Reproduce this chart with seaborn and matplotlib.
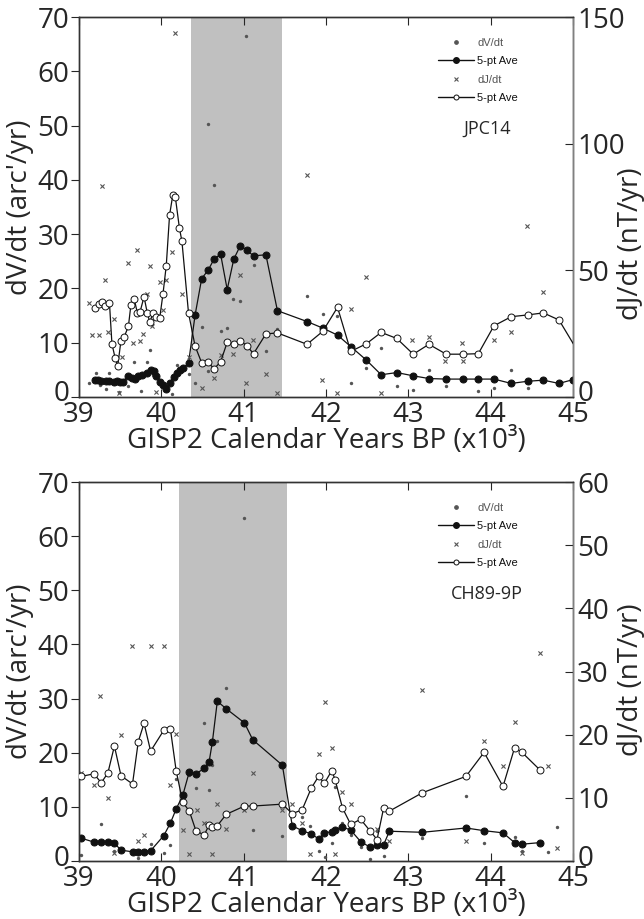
import seaborn as sns
import matplotlib.pyplot as plt
import matplotlib.transforms as mtransforms
from matplotlib.lines import Line2D

# ---- top panel (JPC14) ----
top_avg_v_x = [39.19, 39.23, 39.27, 39.33, 39.37, 39.42, 39.46, 39.50, 39.54, 39.59, 39.64, 39.68,
               39.72, 39.76, 39.82, 39.87, 39.91, 39.94, 39.98, 40.02, 40.06, 40.10, 40.15, 40.19,
               40.23, 40.26, 40.33, 40.41, 40.49, 40.57, 40.64, 40.72, 40.80, 40.88, 40.96, 41.04,
               41.12, 41.27, 41.41, 41.77, 41.96, 42.14, 42.30, 42.49, 42.67, 42.86, 43.06, 43.25,
               43.46, 43.66, 43.85, 44.04, 44.25, 44.45, 44.64, 44.83, 45.00]
top_avg_v = [3.1, 3.1, 3.0, 3.0, 2.9, 2.8, 2.9, 2.8, 2.8, 3.9, 3.5, 3.4,
             3.8, 4.1, 4.5, 5.0, 4.7, 3.8, 2.8, 2.2, 1.5, 2.6, 3.7, 4.4,
             4.9, 5.3, 6.2, 15.1, 21.8, 23.4, 25.4, 26.3, 19.8, 25.4, 27.9, 27.0,
             26.0, 26.2, 15.9, 13.9, 12.7, 11.4, 9.3, 6.8, 4.1, 4.5, 3.9, 3.4,
             3.3, 3.3, 3.3, 3.3, 2.5, 2.9, 3.1, 2.5, 3.2]

top_avg_j_x = [39.20, 39.24, 39.28, 39.32, 39.37, 39.40, 39.44, 39.47, 39.51, 39.55, 39.60, 39.63,
               39.67, 39.71, 39.74, 39.79, 39.83, 39.86, 39.90, 39.94, 39.98, 40.02, 40.06, 40.10,
               40.14, 40.17, 40.22, 40.25, 40.33, 40.41, 40.49, 40.57, 40.64, 40.72, 40.80, 40.88,
               40.96, 41.04, 41.12, 41.27, 41.41, 41.77, 41.96, 42.14, 42.30, 42.49, 42.67, 42.86,
               43.06, 43.25, 43.46, 43.66, 43.85, 44.04, 44.25, 44.45, 44.64, 44.83, 45.10]
top_avg_j = [35.1, 36.6, 37.5, 36.0, 37.1, 21.0, 15.2, 12.2, 22.3, 23.8, 27.9, 36.2,
             38.8, 33.0, 33.4, 39.6, 33.0, 29.6, 33.2, 31.7, 31.1, 40.7, 51.9, 71.8,
             79.9, 78.9, 66.6, 61.5, 33.2, 20.1, 13.5, 13.7, 11.1, 13.9, 21.6, 21.0,
             22.3, 20.1, 17.1, 24.9, 25.3, 20.8, 25.9, 35.4, 18.0, 21.0, 25.5, 23.1,
             16.9, 20.8, 16.9, 16.9, 17.1, 28.1, 31.7, 32.4, 33.2, 30.4, 15.8]

top_raw_v_x = [41.03, 40.57, 40.64, 39.12, 39.21, 39.26, 39.33, 39.37, 39.48, 39.55, 39.60, 39.67,
               39.82, 39.86, 39.75, 39.90, 40.05, 40.13, 40.19, 40.25, 40.34, 40.41, 40.49, 40.57,
               40.72, 40.80, 40.87, 40.96, 41.12, 41.27, 41.41, 41.77, 41.96, 42.13, 42.30, 42.49,
               42.67, 42.86, 43.06, 43.25, 43.46, 43.85, 44.04, 44.25, 44.45, 44.83]
top_raw_v = [66.5, 50.2, 39.0, 2.5, 4.5, 2.2, 1.5, 4.4, 1.0, 3.2, 2.0, 6.5,
             6.4, 8.6, 1.1, 4.0, 1.8, 0.5, 5.9, 5.6, 4.2, 2.5, 12.9, 4.8,
             12.1, 12.8, 18.1, 17.6, 24.4, 8.4, 12.6, 18.6, 15.3, 15.0, 2.5, 5.4,
             9.0, 2.1, 1.3, 4.9, 2.1, 1.1, 1.7, 4.9, 1.7, 2.6]

top_raw_j_x = [39.28, 40.17, 41.77, 44.44, 44.63, 42.48, 42.30, 43.05, 43.25, 43.65, 43.45, 43.66,
               44.04, 44.25, 41.95, 42.13, 42.67, 39.12, 39.16, 39.24, 39.32, 39.35, 39.43, 39.48,
               39.52, 39.59, 39.66, 39.70, 39.74, 39.78, 39.82, 39.86, 39.89, 39.94, 39.98, 40.02,
               40.06, 40.13, 40.25, 40.33, 40.49, 40.64, 40.72, 40.87, 40.96, 41.03, 41.11, 41.27,
               41.41]
top_raw_j = [83.3, 143.6, 87.5, 67.4, 41.4, 47.3, 34.8, 22.4, 23.7, 21.2, 14.4, 14.1,
             22.4, 25.8, 6.7, 1.5, 1.5, 37.3, 24.5, 24.5, 46.3, 25.8, 30.7, 1.7,
             15.9, 52.9, 21.2, 58.2, 22.3, 24.7, 40.6, 51.7, 28.1, 2.1, 45.2, 34.4,
             46.0, 57.3, 40.6, 15.9, 3.4, 7.6, 16.6, 17.0, 48.3, 5.7, 22.5, 9.1,
             1.5]

# ---- bottom panel (CH89-9P) ----
bot_avg_x = [39.03, 39.18, 39.27, 39.35, 39.43, 39.51, 39.65, 39.72, 39.79, 39.87, 40.03, 40.11,
             40.18, 40.26, 40.34, 40.42, 40.52, 40.58, 40.62, 40.68, 40.79, 41.01, 41.11, 41.47,
             41.59, 41.71, 41.82, 41.91, 41.98, 42.07, 42.11, 42.20, 42.30, 42.42, 42.54, 42.62,
             42.70, 42.77, 43.17, 43.70, 43.92, 44.15, 44.29, 44.38, 44.60]
bot_avg_v = [4.2, 3.5, 3.5, 3.5, 3.3, 2.0, 1.7, 1.7, 1.7, 1.9, 4.7, 7.0,
             9.6, 12.1, 16.5, 16.1, 17.1, 18.3, 22.0, 29.5, 28.1, 25.5, 22.4, 17.7,
             6.5, 5.6, 5.0, 4.1, 5.2, 5.4, 5.8, 6.3, 5.7, 3.6, 2.5, 2.9,
             3.0, 5.5, 5.3, 6.1, 5.6, 5.2, 3.4, 3.1, 3.4]
bot_avg_j = [13.4, 13.8, 12.4, 13.9, 18.2, 13.5, 12.2, 18.9, 21.8, 17.4, 20.7, 20.9,
             14.3, 9.3, 7.9, 4.8, 4.1, 5.7, 5.4, 5.6, 7.4, 8.7, 8.7, 9.0,
             7.5, 8.1, 11.5, 13.4, 12.3, 14.3, 12.9, 8.4, 5.8, 6.6, 4.7, 3.4,
             8.4, 7.9, 10.8, 13.4, 17.2, 11.8, 17.9, 17.2, 14.4]

bot_raw_v_x = [41.01, 40.79, 39.03, 39.27, 39.43, 39.72, 39.87, 40.03, 40.11, 40.18, 40.26, 40.34,
               40.42, 40.52, 40.58, 40.62, 40.68, 41.11, 41.47, 41.71, 41.81, 41.91, 41.99, 42.07,
               42.11, 42.20, 42.30, 42.42, 42.54, 42.62, 42.70, 42.77, 43.17, 43.70, 43.92, 44.29,
               44.38, 44.70, 44.81]
bot_raw_v = [63.3, 31.9, 1.2, 6.8, 1.9, 0.5, 3.1, 1.4, 3.0, 15.1, 11.3, 15.8,
             13.5, 25.4, 13.1, 17.7, 22.2, 5.8, 4.7, 8.1, 6.5, 1.9, 0.8, 3.3,
             13.7, 7.0, 4.8, 2.6, 0.4, 5.6, 0.9, 6.0, 4.3, 12.0, 3.3, 4.4,
             1.9, 1.7, 6.3]

bot_raw_j_x = [39.25, 39.64, 39.87, 40.03, 44.60, 43.17, 39.03, 39.18, 39.35, 39.43, 39.51, 39.72,
               39.79, 40.11, 40.18, 40.26, 40.34, 40.43, 40.52, 40.62, 40.68, 40.79, 41.01, 41.11,
               41.47, 41.59, 41.71, 41.81, 41.91, 41.99, 42.07, 42.11, 42.20, 42.30, 42.62, 42.77,
               43.70, 43.92, 44.15, 44.29, 44.38, 44.70, 44.81]
bot_raw_j = [26.1, 34.0, 34.0, 34.0, 33.0, 27.1, 14.0, 12.0, 10.0, 1.2, 20.0, 3.1,
             4.1, 12.0, 20.1, 4.9, 1.1, 8.0, 6.0, 1.1, 9.0, 5.0, 8.1, 14.0,
             8.0, 9.0, 6.0, 1.1, 16.9, 25.1, 17.9, 1.1, 11.0, 9.0, 5.0, 3.1,
             3.1, 19.0, 15.1, 22.0, 1.2, 15.1, 2.1]

x_ticks = [39, 40, 41, 42, 43, 44, 45]
x_label = "GISP2 Calendar Years BP (x10³)"

sns.set_style("ticks")
plt.rcParams['font.family'] = ['Open Sans', 'DejaVu Sans']

RAW = '#555555'
LINE = '#111111'
FS = 20


def lift_zero(fig, axis):
    # the "0" labels sit a few pixels above the corner in the original
    tick = axis.get_major_ticks()[0]
    for lab in (tick.label1, tick.label2):
        lab.set_transform(lab.get_transform() +
                          mtransforms.ScaledTranslation(0, 0.06, fig.dpi_scale_trans))


def panel(fig, ax, span, avg_v_x, avg_v, avg_j_x, avg_j, rv_x, rv, rj_x, rj,
          jmax, jticks, name, jlabel_y):
    ax.axvspan(span[0], span[1], color='#c0c0c0', lw=0, zorder=0)
    sns.scatterplot(x=rv_x, y=rv, ax=ax, color=RAW, s=6, linewidth=0, zorder=2)
    sns.lineplot(x=avg_v_x, y=avg_v, ax=ax, sort=False, estimator=None, color=LINE, lw=0.9,
                 marker='o', markersize=5, markerfacecolor=LINE, markeredgecolor=LINE, zorder=3)
    ax.set_xlim(39, 45)
    ax.set_ylim(0, 70)
    ax.set_xticks(x_ticks)
    ax.set_yticks(range(0, 71, 10))
    ax.tick_params(axis='x', direction='in', top=True, length=6, labelsize=FS, pad=3)
    ax.tick_params(axis='y', direction='out', right=False, length=6, labelsize=FS, pad=1)
    ax.set_xlabel(x_label, fontsize=FS)
    ax.set_ylabel("dV/dt (arc'/yr)", fontsize=FS)
    ax.xaxis.set_label_coords(0.5, -0.08)
    ax.yaxis.set_label_coords(-0.092, 0.5)

    ax2 = ax.twinx()
    sns.scatterplot(x=rj_x, y=rj, ax=ax2, color=RAW, marker='x', s=9, linewidth=0.8, zorder=2)
    sns.lineplot(x=avg_j_x, y=avg_j, ax=ax2, sort=False, estimator=None, color=LINE, lw=0.9,
                 marker='o', markersize=5, markerfacecolor='white', markeredgecolor=LINE,
                 markeredgewidth=0.7, zorder=3)
    ax2.set_ylim(0, jmax)
    ax2.set_yticks(jticks)
    ax2.tick_params(axis='y', direction='in', length=6, labelsize=FS, pad=3)
    ax2.set_ylabel("dJ/dt (nT/yr)", fontsize=FS)
    ax2.yaxis.set_label_coords(1.089, jlabel_y)
    ax2.set_xlim(39, 45)
    for a in (ax, ax2):
        for s in a.spines.values():
            s.set_color('#333333')
            s.set_linewidth(1)
    ax2.spines['right'].set_color('#808080')

    lift_zero(fig, ax.yaxis)
    lift_zero(fig, ax2.yaxis)

    handles = [
        Line2D([], [], ls='none', marker='o', ms=2.4, color=RAW),
        Line2D([], [], ls='-', lw=1, marker='o', ms=4, color=LINE),
        Line2D([], [], ls='none', marker='x', ms=2.6, mew=0.8, color=RAW),
        Line2D([], [], ls='-', lw=1, marker='o', ms=3.6, mfc='white', mec=LINE, mew=0.7, color=LINE),
    ]
    labels = ['dV/dt', '5-pt Ave', 'dJ/dt', '5-pt Ave']
    leg = ax2.legend(handles, labels, loc='upper left', bbox_to_anchor=(0.727, 0.945),
                     frameon=False, handlelength=3.2, handletextpad=0.3, labelspacing=0.75,
                     borderpad=0, borderaxespad=0,
                     prop={'family': ['Liberation Sans', 'DejaVu Sans'], 'size': 8})
    for t, c in zip(leg.get_texts(), [RAW, LINE, RAW, LINE]):
        t.set_color(c)
    ax2.text(0.826, 0.705, name, transform=ax2.transAxes, ha='center', va='center', fontsize=13)


fig = plt.figure(figsize=(6.44, 9.19), dpi=100)
ax_top = fig.add_axes([0.12267, 0.56801, 0.76708, 0.41349])
ax_bot = fig.add_axes([0.12267, 0.06311, 0.76708, 0.41240])

panel(fig, ax_top, (40.36, 41.47), top_avg_v_x, top_avg_v, top_avg_j_x, top_avg_j,
      top_raw_v_x, top_raw_v, top_raw_j_x, top_raw_j, 150, [0, 50, 100, 150], 'JPC14', 0.404)
panel(fig, ax_bot, (40.21, 41.53), bot_avg_x, bot_avg_v, bot_avg_x, bot_avg_j,
      bot_raw_v_x, bot_raw_v, bot_raw_j_x, bot_raw_j, 60, range(0, 61, 10), 'CH89-9P', 0.478)

fig.savefig('out.png', dpi=100)
